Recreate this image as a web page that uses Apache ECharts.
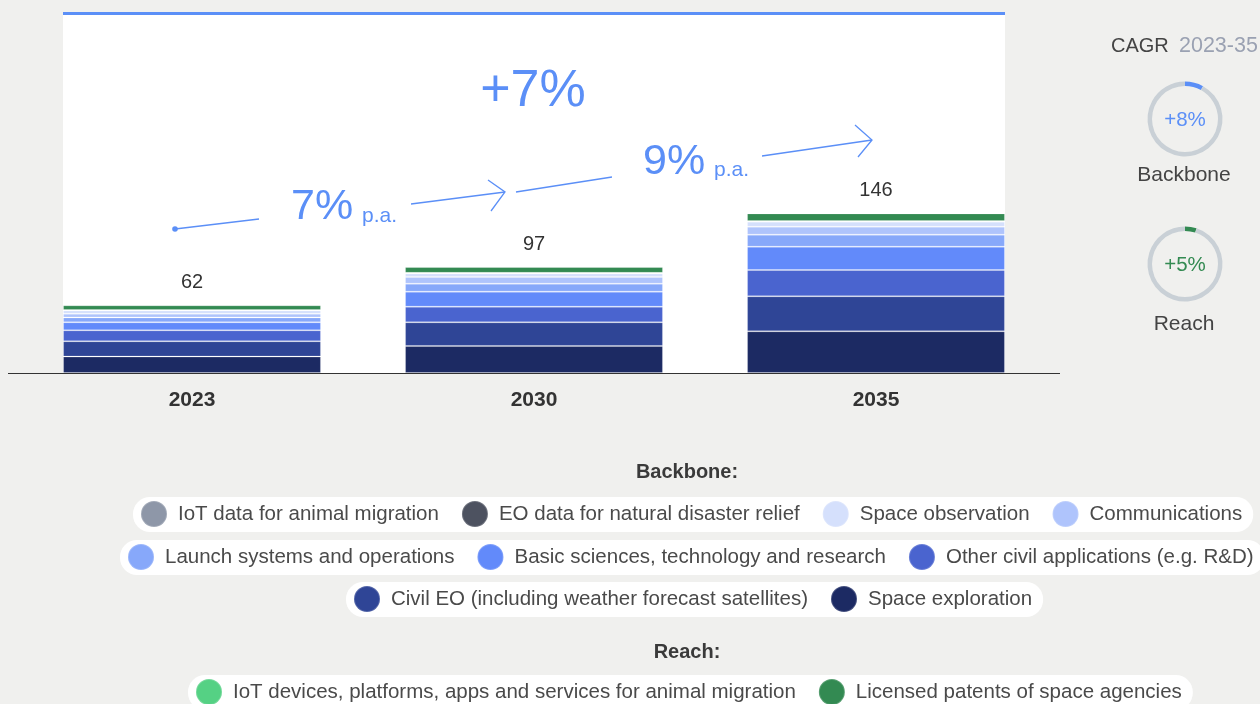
<!DOCTYPE html>
<html>
<head>
<meta charset="utf-8">
<script src="https://cdn.jsdelivr.net/npm/echarts@6/dist/echarts.min.js"></script>
<style>
  html, body { margin: 0; padding: 0; background: #f0f0ee; }
  #chart { width: 1260px; height: 704px; }
</style>
</head>
<body>
<div id="chart"></div>
<script>
// Space economy by use case, 2023 / 2030 / 2035 (stacked, bottom to top)
const years = ['2023', '2030', '2035'];
const totals = [62, 97, 146];

const spaceExploration   = [15.0, 24.7, 38.1];
const civilEO            = [14.0, 21.6, 32.0];
const otherCivil         = [10.0, 14.3, 24.0];
const basicSciences      = [7.3, 13.7, 21.3];
const launchSystems      = [4.5, 7.3, 11.0];
const communications     = [3.3, 6.1, 7.3];
const spaceObservation   = [3.0, 3.3, 4.6];
const eoDisasterRelief   = [0.2, 0.3, 0.3];
const iotAnimalData      = [0.2, 0.2, 0.2];
const licensedPatents    = [4.3, 5.3, 7.0];
const iotDevices         = [0.2, 0.2, 0.2];

// CAGR 2023-35
const cagrBackbone = 8;
const cagrReach = 5;

const N = {
  se: 'Space exploration',
  civ: 'Civil EO (including weather forecast satellites)',
  oth: 'Other civil applications (e.g. R&D)',
  bas: 'Basic sciences, technology and research',
  lau: 'Launch systems and operations',
  com: 'Communications',
  obs: 'Space observation',
  eo: 'EO data for natural disaster relief',
  iotd: 'IoT data for animal migration',
  pat: 'Licensed patents of space agencies',
  iot: 'IoT devices, platforms, apps and services for animal migration'
};

const stackDefs = [
  [N.se, spaceExploration, '#1c2a63'],
  [N.civ, civilEO, '#2f4596'],
  [N.oth, otherCivil, '#4a64cf'],
  [N.bas, basicSciences, '#628afa'],
  [N.lau, launchSystems, '#87a8fa'],
  [N.com, communications, '#afc4fc'],
  [N.obs, spaceObservation, '#d5e0fc'],
  [N.eo, eoDisasterRelief, '#4d5260'],
  [N.iotd, iotAnimalData, '#8e97a8'],
  [N.pat, licensedPatents, '#338a52'],
  [N.iot, iotDevices, '#55d184']
];

const FONT = '"Liberation Sans", Arial, Helvetica, sans-serif';
const BLUE = '#5b8ff7';
const GREEN = '#338a52';

const barSeries = stackDefs.map(([name, values, color], i) => {
  const s = {
    name: name,
    type: 'bar',
    stack: 'total',
    barWidth: '75.4%',
    data: values,
    itemStyle: { color: color, borderColor: 'rgba(255,255,255,0.18)', borderWidth: 1 },
    emphasis: { disabled: true },
    z: 5
  };
  if (i === stackDefs.length - 1) {
    s.label = {
      show: true,
      position: 'top',
      distance: 12,
      fontFamily: FONT,
      fontSize: 20,
      color: '#333',
      formatter: p => String(totals[p.dataIndex])
    };
  }
  return s;
});

function donut(center, value, color) {
  return {
    type: 'pie',
    center: center,
    radius: [33, 37.5],
    startAngle: 90,
    clockwise: true,
    silent: true,
    label: { show: false },
    labelLine: { show: false },
    emphasis: { disabled: true },
    data: [
      { value: value, name: 'g', itemStyle: { color: color } },
      { value: 100 - value, name: 'rest', itemStyle: { color: '#c9d0d6' } }
    ]
  };
}

function legendRow(left, top, names) {
  return {
    data: names,
    left: left,
    top: top,
    width: 1400,
    orient: 'horizontal',
    icon: 'circle',
    itemWidth: 26,
    itemHeight: 26,
    itemGap: 22,
    backgroundColor: '#ffffff',
    borderRadius: 17,
    padding: [3, 11, 4, 7],
    selectedMode: false,
    textStyle: { fontFamily: FONT, fontSize: 20.5, color: '#4a4a4a', padding: [0, 0, 0, 6] }
  };
}

const chart = echarts.init(document.getElementById('chart'), null, { renderer: 'canvas' });

chart.setOption({
  backgroundColor: '#f0f0ee',
  animation: false,
  grid: { left: 21, right: 213, top: 14, bottom: 331 },
  xAxis: {
    type: 'category',
    data: years,
    axisLine: { show: false },
    axisTick: { show: false },
    axisLabel: { fontFamily: FONT, fontSize: 21, fontWeight: 'bold', color: '#333', margin: 17 }
  },
  yAxis: {
    type: 'value',
    min: 0,
    max: 328,
    show: false,
    splitLine: { show: false }
  },
  legend: [
    legendRow(133, 497, [N.iotd, N.eo, N.obs, N.com]),
    legendRow(120, 540, [N.lau, N.bas, N.oth]),
    legendRow(346, 582, [N.civ, N.se]),
    legendRow(188, 675, [N.iot, N.pat])
  ],
  series: barSeries.concat([
    donut([1185, 119], cagrBackbone, BLUE),
    donut([1185, 264], cagrReach, GREEN)
  ]),
  graphic: [
    // white plot panel with blue top rule
    { type: 'rect', z: -10, shape: { x: 63, y: 14, width: 942, height: 359 }, style: { fill: '#ffffff' } },
    { type: 'rect', z: -9, shape: { x: 63, y: 12, width: 942, height: 3 }, style: { fill: BLUE } },
    // baseline
    { type: 'line', z: 10, shape: { x1: 8, y1: 373.5, x2: 1060, y2: 373.5 }, style: { stroke: '#333', lineWidth: 1 } },

    // growth annotations
    { type: 'text', z: 10, style: { text: '+7%', x: 533, y: 92, textAlign: 'center', textVerticalAlign: 'middle', fontFamily: FONT, fontSize: 52, fill: BLUE } },
    { type: 'circle', z: 10, shape: { cx: 175, cy: 229, r: 2.8 }, style: { fill: BLUE } },
    { type: 'line', z: 10, shape: { x1: 175, y1: 229, x2: 259, y2: 219 }, style: { stroke: BLUE, lineWidth: 1.3 } },
    { type: 'text', z: 10, style: { text: '7%', x: 291, y: 207, textAlign: 'left', textVerticalAlign: 'middle', fontFamily: FONT, fontSize: 43, fill: BLUE } },
    { type: 'text', z: 10, style: { text: 'p.a.', x: 362, y: 216, textAlign: 'left', textVerticalAlign: 'middle', fontFamily: FONT, fontSize: 21, fill: BLUE } },
    { type: 'line', z: 10, shape: { x1: 411, y1: 204, x2: 505, y2: 192 }, style: { stroke: BLUE, lineWidth: 1.3 } },
    { type: 'polyline', z: 10, shape: { points: [[488, 180], [505, 192], [491, 211]] }, style: { stroke: BLUE, lineWidth: 1.3, fill: null } },
    { type: 'line', z: 10, shape: { x1: 516, y1: 192, x2: 612, y2: 177 }, style: { stroke: BLUE, lineWidth: 1.3 } },
    { type: 'text', z: 10, style: { text: '9%', x: 643, y: 162, textAlign: 'left', textVerticalAlign: 'middle', fontFamily: FONT, fontSize: 43, fill: BLUE } },
    { type: 'text', z: 10, style: { text: 'p.a.', x: 714, y: 170, textAlign: 'left', textVerticalAlign: 'middle', fontFamily: FONT, fontSize: 21, fill: BLUE } },
    { type: 'line', z: 10, shape: { x1: 762, y1: 156, x2: 872, y2: 140 }, style: { stroke: BLUE, lineWidth: 1.3 } },
    { type: 'polyline', z: 10, shape: { points: [[855, 125], [872, 140], [858, 157]] }, style: { stroke: BLUE, lineWidth: 1.3, fill: null } },

    // CAGR panel
    { type: 'text', z: 10, style: { text: 'CAGR', x: 1111, y: 46, textVerticalAlign: 'middle', fontFamily: FONT, fontSize: 20, fill: '#444' } },
    { type: 'text', z: 10, style: { text: '2023-35', x: 1179, y: 46, textVerticalAlign: 'middle', fontFamily: FONT, fontSize: 21.5, fill: '#9aa1b2' } },
    { type: 'text', z: 10, style: { text: '+' + cagrBackbone + '%', x: 1185, y: 120, textAlign: 'center', textVerticalAlign: 'middle', fontFamily: FONT, fontSize: 20.5, fill: BLUE } },
    { type: 'text', z: 10, style: { text: 'Backbone', x: 1184, y: 175, textAlign: 'center', textVerticalAlign: 'middle', fontFamily: FONT, fontSize: 21, fill: '#444' } },
    { type: 'text', z: 10, style: { text: '+' + cagrReach + '%', x: 1185, y: 265, textAlign: 'center', textVerticalAlign: 'middle', fontFamily: FONT, fontSize: 20.5, fill: GREEN } },
    { type: 'text', z: 10, style: { text: 'Reach', x: 1184, y: 324, textAlign: 'center', textVerticalAlign: 'middle', fontFamily: FONT, fontSize: 21, fill: '#444' } },

    // legend headings
    { type: 'text', z: 10, style: { text: 'Backbone:', x: 687, y: 472, textAlign: 'center', textVerticalAlign: 'middle', fontFamily: FONT, fontSize: 20, fontWeight: 'bold', fill: '#3a3a3a' } },
    { type: 'text', z: 10, style: { text: 'Reach:', x: 687, y: 652, textAlign: 'center', textVerticalAlign: 'middle', fontFamily: FONT, fontSize: 20, fontWeight: 'bold', fill: '#3a3a3a' } }
  ]
});
</script>
</body>
</html>
